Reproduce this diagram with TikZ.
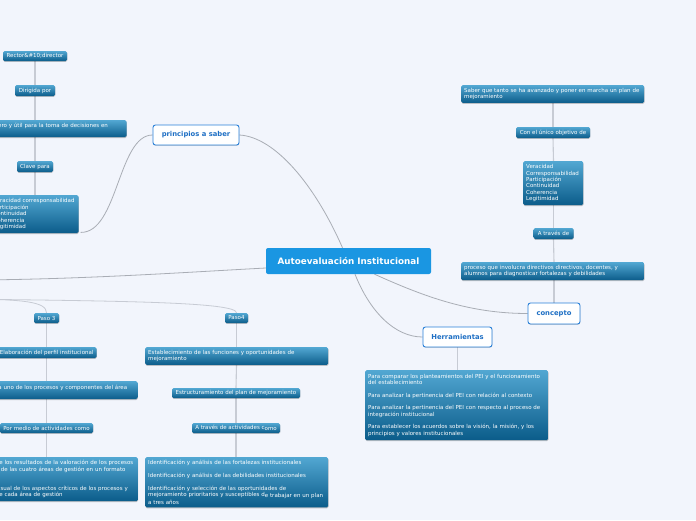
\documentclass[tikz,border=0pt]{standalone}
\usepackage{fontspec}
\setmainfont{DejaVu Sans}
\usetikzlibrary{shadows}
\hyphenpenalty=10000
\exhyphenpenalty=10000
\definecolor{bgc}{HTML}{F2F5FC}
\definecolor{subtop}{HTML}{52A7D2}
\definecolor{subbot}{HTML}{0B5C8A}
\definecolor{linec}{HTML}{A9ADB5}
\definecolor{vlinec}{HTML}{C7CBD4}
\definecolor{centralc}{HTML}{1A96E2}
\definecolor{topicb}{HTML}{2A80D8}
\definecolor{topict}{HTML}{1E6FC4}
\pgfdeclarelayer{back}
\pgfdeclarelayer{edges}
\pgfsetlayers{back,edges,main}
\begin{document}
\begin{tikzpicture}[x=1pt,y=-1pt,
  sub/.style={rounded corners=1.5pt, top color=subtop, bottom color=subbot, draw=none,
    text=white, font=\fontsize{5.5}{6.4}\selectfont, inner xsep=3pt, inner ysep=2pt,
    drop shadow={shadow xshift=0.3pt, shadow yshift=-0.9pt, fill=black, opacity=0.22}},
  subm/.style={sub, align=left, inner xsep=3pt, inner ysep=3pt},
  topic/.style={rounded corners=2.5pt, fill=white, draw=topicb, line width=0.9pt,
    text=topict, font=\fontsize{6.8}{8}\selectfont\bfseries, inner sep=2pt,
    drop shadow={shadow xshift=0.3pt, shadow yshift=-0.8pt, fill=black, opacity=0.15}},
  centralnode/.style={rounded corners=2pt, fill=centralc, draw=none, text=white,
    font=\fontsize{8.8}{10}\selectfont\bfseries, inner sep=2pt},
  mainline/.style={draw=linec, line width=0.8pt},
  vline/.style={draw=vlinec, line width=1.1pt}]
\useasboundingbox (0,0) rectangle (696,520);
\clip (0,0) rectangle (696,520);
\begin{pgfonlayer}{back}
\fill[bgc] (0,0) rectangle (696,520);
\end{pgfonlayer}

% central
\node[centralnode, minimum width=165pt, minimum height=26pt] (central) at (348.5,261) {Autoevaluación Institucional};

% principios a saber branch
\node[topic, minimum width=86pt, minimum height=20pt] (princ) at (196,135) {principios a saber};
\node[sub, minimum width=64pt, minimum height=10pt] (rector) at (35,56) {Rector\&\#10;director};
\node[sub, minimum width=40pt, minimum height=11pt] (dirigida) at (35,90.5) {Dirigida por};
\node[subm, anchor=north east, text width=144.5pt, minimum height=17pt] (toma) at (126.7,120) {verdadero y útil para la toma de decisiones en\\~};
\node[sub, minimum width=36pt, minimum height=11pt] (clave) at (35,166.5) {Clave para};
\node[subm, anchor=north east, text width=82pt, minimum height=38pt] (veracL) at (78.7,195) {Veracidad corresponsabilidad\\Participación\\Continuidad\\Coherencia\\Legitimidad};

% concepto branch
\node[topic, minimum width=52pt, minimum height=21pt] (concepto) at (554,313.5) {concepto};
\node[subm, anchor=north west, text width=177pt, minimum height=17pt] (saber) at (461,85) {Saber que tanto se ha avanzado y poner en marcha un plan de\\mejoramiento};
\node[sub, minimum width=74pt, minimum height=11pt] (unico) at (553,132.5) {Con el único objetivo de};
\node[subm, anchor=north west, text width=54pt, minimum height=44pt] (veracR) at (523,161) {Veracidad\\Corresponsabilidad\\Participación\\Continuidad\\Coherencia\\Legitimidad};
\node[sub, minimum width=40pt, minimum height=11pt] (atraves) at (553.5,233.5) {A través de};
\node[subm, anchor=north west, text width=177pt, minimum height=18pt] (proceso) at (461,262) {proceso que involucra directivos directivos, docentes, y\\alumnos para diagnosticar fortalezas y debilidades};

% Herramientas branch
\node[topic, minimum width=69pt, minimum height=20pt] (herr) at (457.5,337) {Herramientas};
\node[subm, anchor=north west, text width=177pt, minimum height=70pt] (herrbox) at (365,370) {Para comparar los planteamientos del PEI y el funcionamiento\\del establecimiento\\[6.3pt]Para analizar la pertinencia del PEI con relación al contexto\\[6.3pt]Para analizar la pertinencia del PEI con respecto al proceso de\\integración institucional\\[6.3pt]Para establecer los acuerdos sobre la visión, la misión, y los\\principios y valores institucionales};

% Paso 3
\coordinate (pasos) at (-40,299);
\coordinate (leftA) at (-20,280);
\node[sub, minimum width=25pt, minimum height=10pt] (paso3) at (46.5,318) {Paso 3};
\node[sub, anchor=east, minimum height=11pt] (elab) at (96.7,352.5) {Elaboración del perfil institucional};
\node[subm, anchor=north east, text width=146pt, minimum height=18pt] (uno) at (137.7,381) {cada uno de los procesos y componentes del área\\~};
\node[sub, minimum width=93pt, minimum height=10pt] (pormedio) at (46.5,428) {Por medio de actividades como};
\node[subm, anchor=north east, text width=139pt, minimum height=44pt] (res3) at (138,457) {de los resultados de la valoración de los procesos\\y de las cuatro áreas de gestión en un formato\\[12.6pt]visual de los aspectos críticos de los procesos y\\de cada área de gestión};

% Paso4
\node[sub, minimum width=23pt, minimum height=10pt] (paso4) at (236.5,318) {Paso4};
\node[subm, anchor=north west, text width=177pt, minimum height=17pt] (estab) at (145,347) {Establecimiento de las funciones y oportunidades de\\mejoramiento};
\node[sub, minimum width=128pt, minimum height=10pt] (estruct) at (236,393) {Estructuramiento del plan de mejoramiento};
\node[sub, minimum width=88pt, minimum height=10pt] (atravact) at (236,428) {A través de actividades c\raisebox{-1.3pt}{omo}};
\node[subm, anchor=north west, text width=177pt, minimum height=50pt] (res4) at (145,457) {Identificación y análisis de las fortalezas institucionales\\[6.3pt]Identificación y análisis de las debilidades institucionales\\[6.3pt]Identificación y selección de las oportunidades de\\mejoramiento prioritarios y susceptibles d\raisebox{-1.5pt}{e trabajar en un plan}\\a tres años};

\begin{pgfonlayer}{edges}
% main curves
\draw[mainline] ([xshift=-6pt]central.north) .. controls (315,185) and (275,137) .. (princ.east);
\draw[mainline] (princ.west) .. controls (118,135) and (118,233) .. ([xshift=2pt,yshift=1pt]veracL.south east);
\draw[mainline] ([yshift=-7pt]central.west) .. controls (190,272) and (90,279) .. (leftA);
\draw[mainline] ([xshift=6.5pt]central.south) .. controls (370,312) and (395,337) .. (herr.west);
\draw[mainline] ([xshift=26pt]central.south) .. controls (425,297) and (470,313.5) .. (concepto.west);
\draw[mainline, draw=vlinec] (pasos) .. controls (25,299) and (46.5,302) .. (paso3.north);
\draw[mainline, draw=vlinec] (pasos) .. controls (120,301) and (236.5,302) .. (paso4.north);
% vertical connectors, left top column
\draw[vline] (rector.south) -- (dirigida.north);
\draw[vline] (dirigida.south) -- (dirigida.south |- toma.north);
\draw[vline] (dirigida.south |- toma.south) -- (clave.north);
\draw[vline] (clave.south) -- (clave.south |- veracL.north);
% concepto column
\draw[vline] (concepto.north) -- (concepto.north |- proceso.south);
\draw[vline] (concepto.north |- proceso.north) -- (atraves.south);
\draw[vline] (atraves.north) -- (atraves.north |- veracR.south);
\draw[vline] (atraves.north |- veracR.north) -- (unico.south);
\draw[vline] (unico.north) -- (unico.north |- saber.south);
% herramientas
\draw[vline] (herr.south) -- (herr.south |- herrbox.north);
% paso 3
\draw[vline] (paso3.south) -- (paso3.south |- elab.north);
\draw[vline] (paso3.south |- elab.south) -- (paso3.south |- uno.north);
\draw[vline] (paso3.south |- uno.south) -- (pormedio.north);
\draw[vline] (pormedio.south) -- (pormedio.south |- res3.north);
% paso 4
\draw[vline] (paso4.south) -- (paso4.south |- estab.north);
\draw[vline] (paso4.south |- estab.south) -- (estruct.north);
\draw[vline] (estruct.south) -- (atravact.north);
\draw[vline] (atravact.south) -- (atravact.south |- res4.north);
\end{pgfonlayer}
\end{tikzpicture}
\end{document}
